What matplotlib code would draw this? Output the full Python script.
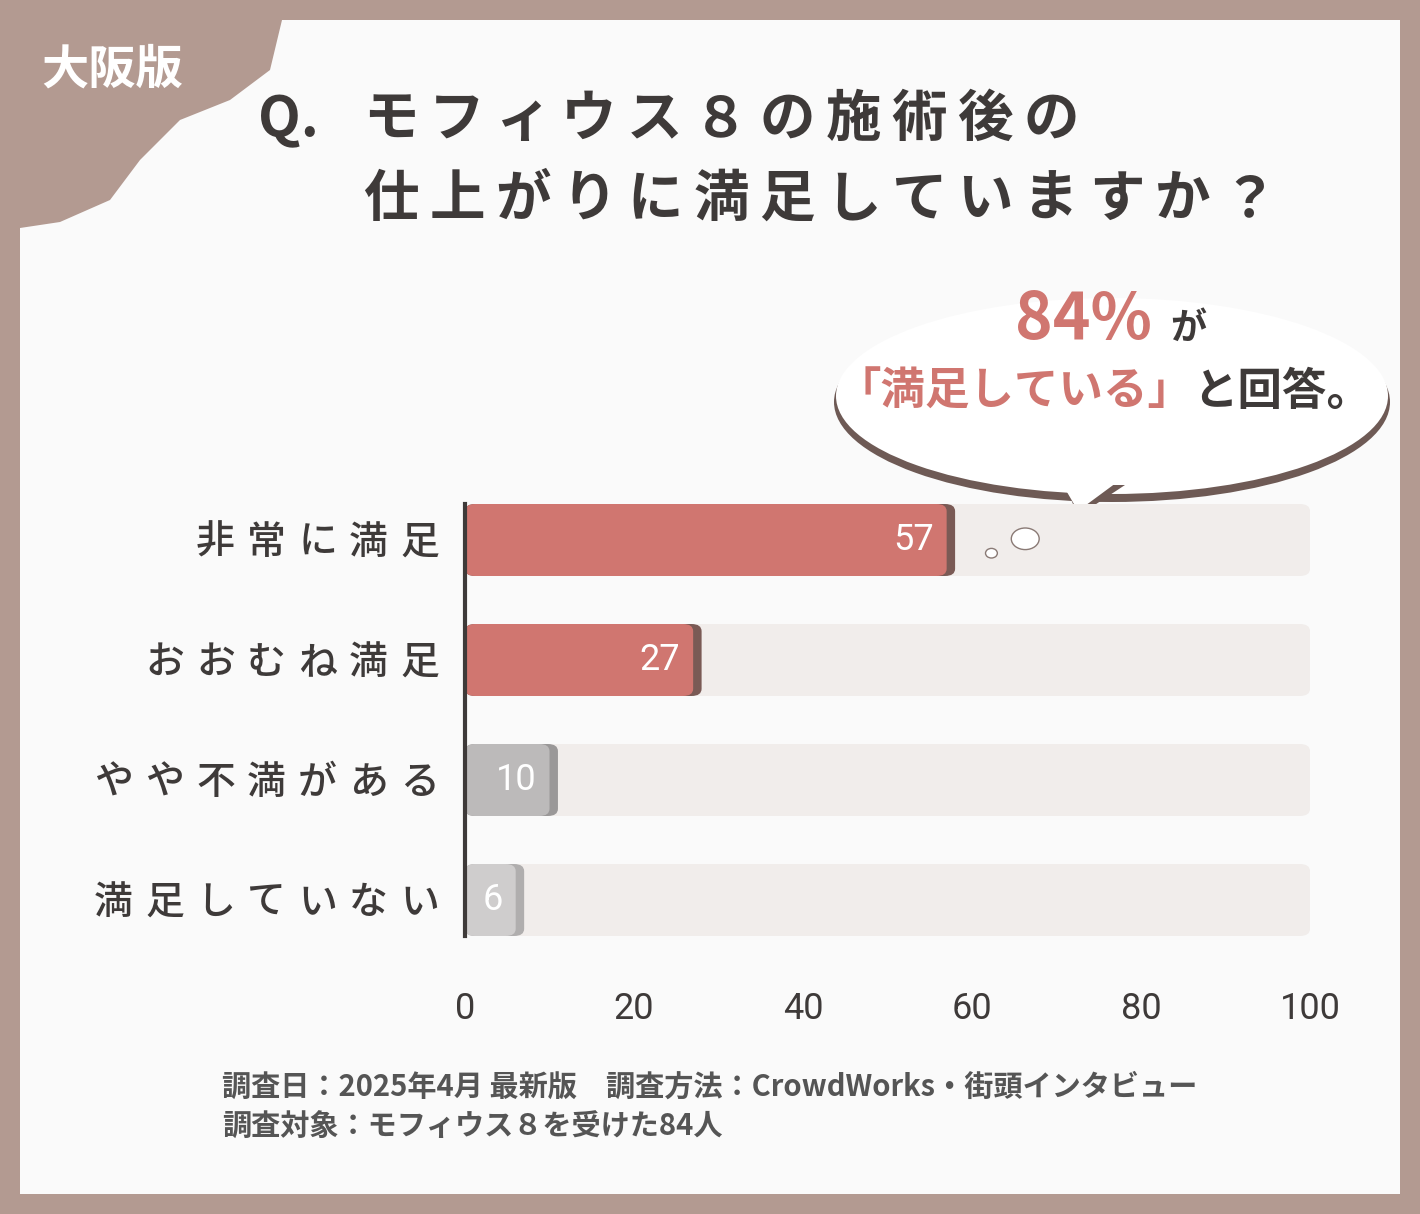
import matplotlib.pyplot as plt
from matplotlib.patches import FancyBboxPatch, Rectangle, Ellipse, Polygon

plt.rcParams["font.family"] = "Noto Sans CJK JP"

categories = ["非常に満足", "おおむね満足", "やや不満がある", "満足していない"]
values = [57, 27, 10, 6]
bar_colors = ["#d07670", "#d07670", "#bcbaba", "#cfcdcd"]
shadow_colors = ["#7a5a55", "#7a5a55", "#9a9898", "#b0aeae"]
xticks = [0, 20, 40, 60, 80, 100]
title1 = "Q. モフィウス８の施術後の"
title2 = "仕上がりに満足していますか？"

W, H = 1420, 1214
fig = plt.figure(figsize=(W / 100, H / 100), dpi=100)
fig.patch.set_facecolor("#b39a91")

bg = fig.add_axes([0, 0, 1, 1])
bg.set_xlim(0, W)
bg.set_ylim(H, 0)
bg.axis("off")
bg.add_patch(Rectangle((20, 20), 1380, 1174, facecolor="#fafafa", edgecolor="none"))
bg.add_patch(Polygon([(20, 20), (282, 20), (270, 70), (230, 100), (180, 120), (140, 160),
                      (110, 200), (60, 222), (20, 228)], closed=True,
                     facecolor="#b39a91", edgecolor="none"))
bg.text(112, 70, "大阪版", fontsize=34, fontweight="bold", color="white", ha="center", va="center")


def spaced(x0, y, s, pitch, **kw):
    x = x0
    for ch in s:
        bg.text(x + pitch / 2, y, ch, ha="center", va="center", **kw)
        x += pitch


tkw = dict(fontsize=40, fontweight="bold", color="#3e3a39")
bg.text(258, 120, "Q.", ha="left", va="center", **tkw)
spaced(358, 120, title1[3:], 66, **tkw)
spaced(358, 200, title2, 66, **tkw)

# speech bubble
bg.add_patch(Ellipse((1112, 402), 556, 200, facecolor="#6e5a55", edgecolor="none"))
bg.add_patch(Ellipse((1112, 396), 552, 196, facecolor="white", edgecolor="none"))
bg.add_patch(Polygon([(1065, 485), (1125, 485), (1078, 516)], closed=True,
                     facecolor="#6e5a55", edgecolor="none", zorder=2))
bg.add_patch(Polygon([(1060, 480), (1120, 480), (1078, 511)], closed=True,
                     facecolor="white", edgecolor="none", zorder=3))
bg.text(1083, 320, "84%", fontsize=46, fontweight="bold", color="#d07670", ha="center", va="center")
bg.text(1188, 328, "が", fontsize=26, fontweight="bold", color="#3e3a39", ha="center", va="center")
bg.text(1015, 392, "「満足している」", fontsize=32, fontweight="bold", color="#d07670",
        ha="center", va="center")
bg.text(1282, 392, "と回答。", fontsize=32, fontweight="bold", color="#3e3a39",
        ha="center", va="center")

bg.text(222, 1087, "調査日：2025年4月 最新版　調査方法：CrowdWorks・街頭インタビュー",
        fontsize=21, fontweight="bold", color="#555555", ha="left", va="center")
bg.text(222, 1127, "調査対象：モフィウス８を受けた84人",
        fontsize=21, fontweight="bold", color="#555555", ha="left", va="center")

# category labels, letter-spaced, right aligned at x=440
for i, c in enumerate(categories):
    spaced(440 - 51 * len(c) + 5, 543 + 120 * i, c, 51, fontsize=28, fontweight="medium",
           color="#3e3a39")

ax = fig.add_axes([465 / W, 1 - 960 / H, 845 / W, 480 / H])
ax.set_facecolor("none")
ax.set_xlim(0, 100)
ax.set_ylim(3.5, -0.5)
h = 0.6
for i, (v, c, s) in enumerate(zip(values, bar_colors, shadow_colors)):
    ax.add_patch(FancyBboxPatch((0, i - h / 2), 100, h, boxstyle="round,pad=0,rounding_size=1.2",
                                mutation_aspect=0.05, facecolor="#f1edeb", edgecolor="none"))
    ax.add_patch(FancyBboxPatch((0, i - h / 2), v + 1, h, boxstyle="round,pad=0,rounding_size=1.2",
                                mutation_aspect=0.05, facecolor=s, edgecolor="none"))
    ax.add_patch(FancyBboxPatch((0, i - h / 2), v, h, boxstyle="round,pad=0,rounding_size=1.2",
                                mutation_aspect=0.05, facecolor=c, edgecolor="none"))
    ax.text(v - 1.5, i, str(v), fontsize=26, color="white", ha="right", va="center",
            fontfamily="Roboto", fontstretch="condensed")
ax.add_patch(Ellipse((66.3, -0.01), 3.3, 0.18, facecolor="white", edgecolor="#8a7a75", zorder=5))
ax.add_patch(Ellipse((62.3, 0.11), 1.4, 0.08, facecolor="white", edgecolor="#8a7a75", zorder=5))
ax.set_yticks([])
ax.set_xticks(xticks)
ax.set_xticklabels([str(t) for t in xticks], fontsize=26, color="#3e3a39", fontfamily="Roboto")
ax.tick_params(length=0, pad=22)
for sp in ["top", "right", "bottom"]:
    ax.spines[sp].set_visible(False)
ax.spines["left"].set_linewidth(3)
ax.spines["left"].set_color("#3e3a39")
ax.spines["left"].set_bounds(-0.3, 3.3)

fig.savefig("out.png", dpi=100, facecolor=fig.get_facecolor())
